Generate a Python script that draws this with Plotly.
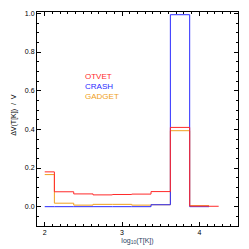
import plotly.graph_objects as go

bin_edges = [2.0, 2.125, 2.375, 2.625, 2.875, 3.125, 3.375, 3.625, 3.875, 4.125, 4.25]
otvet = [0.180, 0.077, 0.066, 0.061, 0.063, 0.065, 0.078, 0.410, 0.003, 0.002]
crash = [0.000, 0.000, 0.000, 0.000, 0.000, 0.000, 0.010, 0.993, 0.000]
gadget = [0.166, 0.018, 0.008, 0.012, 0.012, 0.008, 0.010, 0.393, 0.005]

series = [("OTVET", otvet, "#ff2a2a"), ("CRASH", crash, "#2a2aff"), ("GADGET", gadget, "#f0a020")]
draw_order = [2, 1, 0]
label_y = [0.675, 0.623, 0.571]
label_x = 2.5

fig = go.Figure()
for i in draw_order:
    name, vals, col = series[i]
    xs = bin_edges[:len(vals) + 1]
    ys = list(vals) + [vals[-1]]
    fig.add_trace(go.Scatter(x=xs, y=ys, mode="lines", line=dict(color=col, width=1, shape="hv"),
                             showlegend=False, hoverinfo="skip", name=name))

for (name, vals, col), ly in zip(series, label_y):
    fig.add_annotation(x=label_x, y=ly, text=name, showarrow=False, xanchor="left", yanchor="middle",
                       font=dict(color=col, size=8, family="Liberation Sans"))

fig.add_annotation(xref="paper", yref="paper", x=-0.114, y=0.52, text="ΔV(T[K])  /  V", textangle=-90,
                   showarrow=False, xanchor="center", yanchor="middle",
                   font=dict(size=7, family="Liberation Sans", color="black"))

axis_common = dict(showgrid=False, zeroline=False, showline=True, linecolor="black", linewidth=1,
                   mirror="ticks", ticks="inside", tickcolor="black", ticklen=4, tickwidth=1,
                   automargin=False,
                   tickfont=dict(size=7, family="Liberation Sans", color="black"))

fig.update_xaxes(range=[1.9, 4.5], tickvals=[2, 3, 4], ticktext=["2", "3", "4"],
                 minor=dict(ticks="inside", dtick=0.1, tick0=0, ticklen=2, tickcolor="black"),
                 title=dict(text="log<sub>10</sub>(T[K])", font=dict(size=7, family="Liberation Sans"), standoff=2),
                 **axis_common)
fig.update_yaxes(range=[-0.1, 1.007], tickvals=[0, 0.2, 0.4, 0.6, 0.8, 1.0],
                 ticktext=["0.0", "0.2", "0.4", "0.6", "0.8", "1.0"],
                 minor=dict(ticks="inside", dtick=0.05, tick0=0, ticklen=2, tickcolor="black"),
                 **axis_common)

fig.update_layout(width=249, height=249, margin=dict(l=37, r=11, t=12, b=23),
                  paper_bgcolor="white", plot_bgcolor="white")
fig.write_html("out.html", config={"displayModeBar": False},
               post_script="document.body.style.margin='0';document.body.style.padding='0';")
